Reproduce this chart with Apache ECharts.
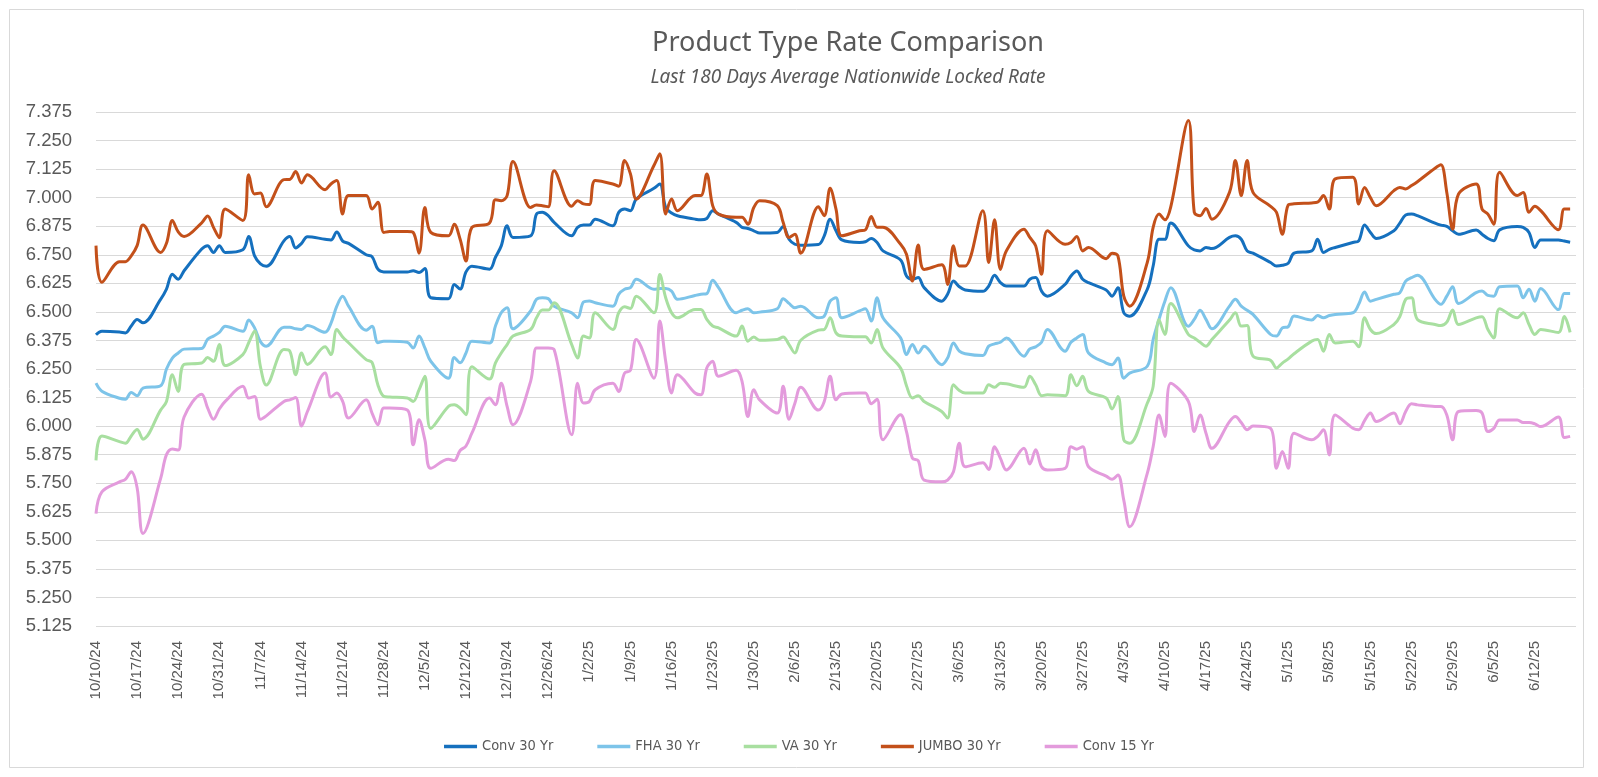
<!DOCTYPE html>
<html>
<head>
<meta charset="utf-8">
<script src="https://cdn.jsdelivr.net/npm/echarts@6/dist/echarts.min.js"></script>
<style>
html,body{margin:0;padding:0;background:#fff;}
#chart{width:1598px;height:777px;}
</style>
</head>
<body>
<div id="chart"></div>
<script>
// Series names (legend order)
const seriesNames = ['Conv 30 Yr', 'FHA 30 Yr', 'VA 30 Yr', 'JUMBO 30 Yr', 'Conv 15 Yr'];

// Values for each business day from 10/10/24 through 6/18/25 (180 days)
const conv30 = [
  6.400, 6.415,
  6.412, 6.408, 6.438, 6.467, 6.452,
  6.555, 6.600, 6.665, 6.643, 6.680,
  6.775, 6.790, 6.760, 6.790, 6.760,
  6.772, 6.830, 6.745, 6.710, 6.700,
  6.811, 6.830, 6.780, 6.800, 6.829,
  6.818, 6.815, 6.850, 6.810, 6.800,
  6.750, 6.742, 6.687, 6.675, 6.675,
  6.675, 6.680, 6.672, 6.690, 6.562,
  6.558, 6.620, 6.600, 6.675, 6.700,
  6.687, 6.738, 6.789, 6.877, 6.826,
  6.833, 6.928, 6.936, 6.921, 6.892,
  6.833, 6.870, 6.880, 6.880, 6.906,
  6.877, 6.936, 6.950, 6.943, 6.994,
  7.041, 7.060, 6.957, 6.933, 6.921,
  6.906, 6.903, 6.909, 6.943, 6.928,
  6.892, 6.870, 6.865, 6.855, 6.845,
  6.848, 6.874, 6.818, 6.796, 6.792,
  6.795, 6.833, 6.906, 6.855, 6.815,
  6.804, 6.807, 6.821, 6.804, 6.767,
  6.727, 6.657, 6.643, 6.650, 6.606,
  6.547, 6.577, 6.635, 6.610, 6.596,
  6.590, 6.613, 6.660, 6.628, 6.613,
  6.613, 6.643, 6.650, 6.591, 6.569,
  6.620, 6.657, 6.679, 6.643, 6.628,
  6.596, 6.569, 6.606, 6.496, 6.481,
  6.599, 6.701, 6.818, 6.818, 6.889,
  6.789, 6.771, 6.767, 6.782, 6.777,
  6.826, 6.833, 6.818, 6.767, 6.757,
  6.716, 6.701, 6.704, 6.713, 6.757,
  6.767, 6.818, 6.760, 6.774, 6.782,
  6.804, 6.811, 6.880, 6.848, 6.821,
  6.855, 6.889, 6.924, 6.928, 6.921,
  6.889, 6.880, 6.874, 6.855, 6.840,
  6.859, 6.840, 6.821, 6.811, 6.859,
  6.874, 6.870, 6.848, 6.782, 6.815,
  6.815, 6.810, 6.805
];
const fha30 = [
  6.188, 6.153,
  6.122, 6.118, 6.147, 6.133, 6.166,
  6.177, 6.250, 6.298, 6.320, 6.337,
  6.340, 6.380, 6.394, 6.410, 6.437,
  6.415, 6.465, 6.430, 6.370, 6.350,
  6.433, 6.433, 6.426, 6.423, 6.440,
  6.411, 6.450, 6.525, 6.569, 6.525,
  6.420, 6.437, 6.365, 6.372, 6.372,
  6.367, 6.342, 6.394, 6.342, 6.284,
  6.210, 6.300, 6.277, 6.320, 6.372,
  6.364, 6.437, 6.496, 6.518, 6.426,
  6.504, 6.555, 6.562, 6.558, 6.525,
  6.496, 6.474, 6.543, 6.548, 6.540,
  6.525, 6.577, 6.599, 6.606, 6.643,
  6.599, 6.602, 6.602, 6.591, 6.555,
  6.572, 6.577, 6.580, 6.638, 6.606,
  6.496, 6.507, 6.514, 6.496, 6.499,
  6.514, 6.558, 6.537, 6.518, 6.525,
  6.474, 6.481, 6.547, 6.562, 6.474,
  6.504, 6.514, 6.460, 6.562, 6.474,
  6.386, 6.313, 6.357, 6.320, 6.350,
  6.269, 6.298, 6.364, 6.328, 6.317,
  6.309, 6.350, 6.360, 6.367, 6.386,
  6.306, 6.338, 6.347, 6.367, 6.423,
  6.328, 6.367, 6.386, 6.401, 6.320,
  6.276, 6.269, 6.298, 6.210, 6.232,
  6.262, 6.379, 6.467, 6.547, 6.606,
  6.437, 6.467, 6.507, 6.467, 6.426,
  6.525, 6.555, 6.525, 6.507, 6.489,
  6.401, 6.394, 6.430, 6.435, 6.482,
  6.464, 6.484, 6.474, 6.484, 6.489,
  6.496, 6.533, 6.587, 6.547, 6.555,
  6.577, 6.584, 6.635, 6.650, 6.660,
  6.555, 6.533, 6.569, 6.610, 6.537,
  6.584, 6.591, 6.572, 6.569, 6.610,
  6.613, 6.562, 6.599, 6.547, 6.602,
  6.510, 6.580, 6.580
];
const va30 = [
  5.850, 5.957,
  5.932, 5.925, 5.957, 5.985, 5.943,
  6.070, 6.108, 6.225, 6.152, 6.270,
  6.276, 6.300, 6.284, 6.357, 6.265,
  6.313, 6.365, 6.416, 6.260, 6.180,
  6.335, 6.328, 6.225, 6.320, 6.270,
  6.347, 6.313, 6.423, 6.390, 6.365,
  6.291, 6.279, 6.180, 6.130, 6.127,
  6.123, 6.108, 6.159, 6.218, 5.990,
  6.086, 6.093, 6.079, 6.050, 6.260,
  6.206, 6.276, 6.320, 6.357, 6.394,
  6.423, 6.474, 6.508, 6.508, 6.540,
  6.357, 6.298, 6.394, 6.386, 6.496,
  6.423, 6.496, 6.522, 6.515, 6.569,
  6.496, 6.664, 6.562, 6.496, 6.474,
  6.511, 6.511, 6.467, 6.438, 6.430,
  6.394, 6.438, 6.372, 6.390, 6.376,
  6.379, 6.390, 6.357, 6.320, 6.376,
  6.420, 6.423, 6.474, 6.408, 6.394,
  6.391, 6.391, 6.364, 6.423, 6.342,
  6.254, 6.177, 6.123, 6.133, 6.108,
  6.064, 6.035, 6.181, 6.156, 6.145,
  6.145, 6.181, 6.170, 6.188, 6.185,
  6.170, 6.218, 6.181, 6.133, 6.137,
  6.133, 6.225, 6.177, 6.218, 6.152,
  6.123, 6.075, 6.130, 5.940, 5.925,
  6.100, 6.174, 6.467, 6.401, 6.537,
  6.401, 6.386, 6.367, 6.350, 6.379,
  6.464, 6.496, 6.438, 6.440, 6.306,
  6.288, 6.254, 6.276, 6.294, 6.317,
  6.372, 6.379, 6.328, 6.401, 6.364,
  6.372, 6.347, 6.474, 6.423, 6.405,
  6.445, 6.479, 6.555, 6.562, 6.467,
  6.445, 6.440, 6.455, 6.508, 6.445,
  6.474, 6.479, 6.423, 6.386, 6.514,
  6.474, 6.496, 6.445, 6.401, 6.423,
  6.410, 6.480, 6.410
];
const jumbo30 = [
  6.790, 6.630,
  6.720, 6.720, 6.745, 6.790, 6.880,
  6.760, 6.800, 6.900, 6.850, 6.830,
  6.890, 6.920, 6.870, 6.825, 6.950,
  6.900, 7.100, 7.016, 7.020, 6.960,
  7.079, 7.080, 7.114, 7.064, 7.100,
  7.035, 7.060, 7.075, 6.928, 7.009,
  7.009, 6.950, 6.980, 6.848, 6.852,
  6.852, 6.848, 6.757, 6.957, 6.848,
  6.833, 6.884, 6.818, 6.723, 6.870,
  6.889, 6.991, 6.987, 7.009, 7.158,
  6.957, 6.968, 6.965, 6.960, 7.118,
  6.962, 6.987, 6.973, 6.970, 7.075,
  7.060, 7.050, 7.163, 7.104, 6.994,
  7.141, 7.192, 6.928, 6.994, 6.943,
  7.009, 7.009, 7.104, 6.965, 6.928,
  6.914, 6.914, 6.884, 6.957, 6.987,
  6.965, 6.892, 6.826, 6.840, 6.757,
  6.960, 6.921, 7.041, 6.950, 6.833,
  6.855, 6.859, 6.918, 6.870, 6.870,
  6.796, 6.752, 6.635, 6.793, 6.686,
  6.706, 6.620, 6.789, 6.701, 6.701,
  6.943, 6.716, 6.903, 6.686, 6.767,
  6.862, 6.826, 6.789, 6.665, 6.855,
  6.796, 6.804, 6.830, 6.767, 6.782,
  6.733, 6.757, 6.745, 6.569, 6.525,
  6.716, 6.870, 6.928, 6.903, 6.960,
  7.338, 6.936, 6.921, 6.953, 6.906,
  7.023, 7.163, 7.009, 7.163, 7.023,
  6.962, 6.936, 6.840, 6.968, 6.973,
  6.977, 6.980, 7.009, 6.950, 7.082,
  7.089, 6.972, 7.045, 7.000, 6.965,
  7.031, 7.045, 7.038, 7.053, 7.070,
  7.129, 7.144, 7.023, 6.862, 7.016,
  7.060, 6.950, 6.928, 6.884, 7.111,
  7.009, 7.023, 6.936, 6.962, 6.943,
  6.860, 6.950, 6.950
];
const conv15 = [
  5.617, 5.712,
  5.756, 5.767, 5.800, 5.730, 5.530,
  5.770, 5.875, 5.900, 5.895, 6.040,
  6.140, 6.080, 6.030, 6.075, 6.108,
  6.174, 6.123, 6.130, 6.030, 6.045,
  6.108, 6.115, 6.125, 6.000, 6.064,
  6.232, 6.127, 6.145, 6.108, 6.035,
  6.115, 6.057, 6.006, 6.079, 6.079,
  6.071, 5.918, 6.028, 5.940, 5.815,
  5.855, 5.849, 5.893, 5.913, 5.969,
  6.123, 6.093, 6.188, 6.086, 6.006,
  6.196, 6.342, 6.342, 6.342, 6.335,
  5.962, 6.188, 6.101, 6.108, 6.159,
  6.188, 6.152, 6.232, 6.244, 6.379,
  6.210, 6.460, 6.284, 6.145, 6.225,
  6.145, 6.137, 6.254, 6.284, 6.218,
  6.244, 6.196, 6.042, 6.159, 6.115,
  6.057, 6.174, 6.030, 6.100, 6.170,
  6.070, 6.108, 6.218, 6.115, 6.141,
  6.145, 6.145, 6.098, 6.118, 5.940,
  6.050, 5.976, 5.860, 5.849, 5.764,
  5.756, 5.764, 5.800, 5.925, 5.822,
  5.840, 5.810, 5.910, 5.859, 5.808,
  5.903, 5.834, 5.896, 5.822, 5.808,
  5.815, 5.910, 5.899, 5.910, 5.822,
  5.781, 5.767, 5.786, 5.676, 5.559,
  5.793, 5.910, 6.049, 5.955, 6.188,
  6.108, 5.976, 6.049, 5.969, 5.903,
  6.020, 6.042, 6.016, 5.984, 6.000,
  5.990, 5.815, 5.889, 5.815, 5.969,
  5.940, 5.954, 5.984, 5.874, 6.049,
  5.991, 5.984, 6.024, 6.057, 6.020,
  6.057, 6.010, 6.064, 6.098, 6.093,
  6.086, 6.086, 6.049, 5.940, 6.064,
  6.068, 6.057, 5.976, 5.990, 6.027,
  6.027, 6.016, 6.016, 6.010, 5.998,
  6.040, 5.950, 5.955
];
const seriesValues = [conv30, fha30, va30, jumbo30, conv15];
const seriesColors = ['#1570BE', '#7DC4E9', '#A8DFA0', '#C3501A', '#E39BDC'];

// Axis settings
const startDate = Date.UTC(2024, 9, 10); // 10/10/24
const DAY = 86400000;
const yTicks = { min: 5.125, max: 7.375, step: 0.125 };

// Business-day offsets (days since 10/10/24), one per value
const dayOffsets = [];
for (let d = 0; dayOffsets.length < conv30.length; d++) {
  const wd = new Date(startDate + d * DAY).getUTCDay();
  if (wd !== 0 && wd !== 6) dayOffsets.push(d);
}
const lastDay = dayOffsets[dayOffsets.length - 1];

function dateLabel(off) {
  const dt = new Date(startDate + off * DAY);
  return (dt.getUTCMonth() + 1) + '/' + dt.getUTCDate() + '/' + String(dt.getUTCFullYear()).slice(2);
}

const chart = echarts.init(document.getElementById('chart'));
const txt = '#595959';
chart.setOption({
  backgroundColor: '#ffffff',
  animation: false,
  graphic: [{
    type: 'rect', shape: { x: 9.5, y: 9.5, width: 1574, height: 758 },
    style: { fill: 'none', stroke: '#d9d9d9', lineWidth: 1 }, silent: true
  }],
  title: [{
    text: 'Product Type Rate Comparison', left: 843, top: 25, textAlign: 'center',
    textStyle: { fontFamily: 'Noto Sans', fontSize: 27, fontWeight: 'normal', color: txt }
  }, {
    text: 'Last 180 Days Average Nationwide Locked Rate', left: 843, top: 63, textAlign: 'center',
    textStyle: { fontFamily: 'Noto Sans', fontSize: 19, fontStyle: 'italic', fontWeight: 'normal', color: txt }
  }],
  legend: {
    data: seriesNames, left: 'center', top: 734, icon: 'rect', itemWidth: 33, itemHeight: 3.5, itemGap: 44,
    textStyle: { fontFamily: 'DejaVu Sans Condensed', fontSize: 14.5, color: txt }
  },
  grid: { left: 96, right: 22, top: 112, bottom: 151, containLabel: false },
  xAxis: {
    type: 'value', min: 0, max: lastDay + 1, interval: 7,
    axisLine: { show: false }, axisTick: { show: false }, splitLine: { show: false },
    axisLabel: {
      rotate: 90, margin: 15, showMaxLabel: false, color: txt,
      fontFamily: 'Liberation Sans', fontSize: 15,
      formatter: v => dateLabel(v)
    }
  },
  yAxis: {
    type: 'value', min: yTicks.min, max: yTicks.max, interval: yTicks.step,
    axisLine: { show: false }, axisTick: { show: false },
    splitLine: { lineStyle: { color: '#d9d9d9', width: 1 } },
    axisLabel: { color: txt, fontFamily: 'Liberation Sans', fontSize: 18.5, margin: 24, formatter: v => v.toFixed(3) }
  },
  series: seriesNames.map((name, k) => ({
    name, type: 'line', smooth: 0.35, showSymbol: false, symbol: 'none',
    color: seriesColors[k],
    lineStyle: { width: 3, color: seriesColors[k] },
    data: seriesValues[k].map((v, i) => [dayOffsets[i], v])
  }))
});
</script>
</body>
</html>
